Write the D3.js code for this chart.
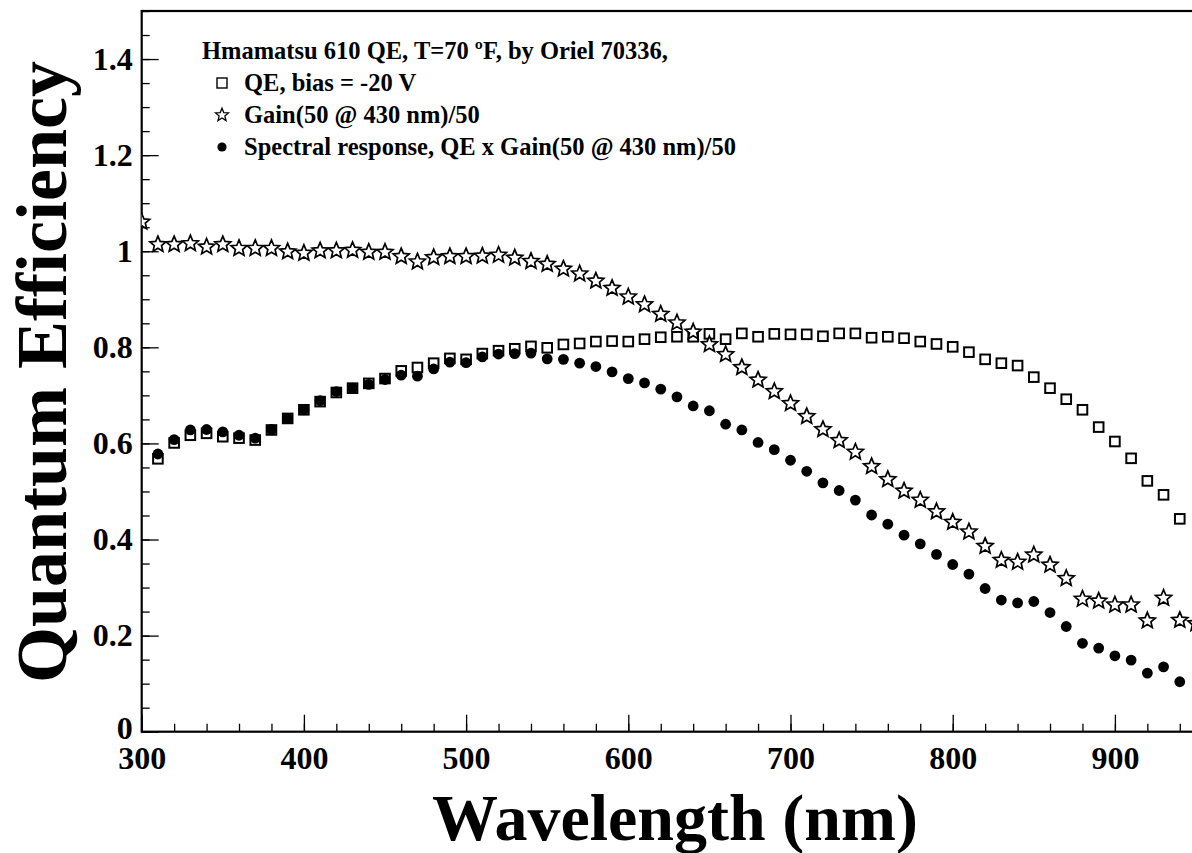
<!DOCTYPE html>
<html><head><meta charset="utf-8">
<script src="https://cdn.jsdelivr.net/npm/d3@7"></script>
<style>body{margin:0;background:#fff;overflow:hidden}</style>
</head><body>
<svg id="c" width="1192" height="853"></svg>
<script>
// ---- data ----
const wavelengthsQE = [310,320,330,340,350,360,370,380,390,400,410,420,430,440,450,460,470,480,490,500,510,520,530,540,550,560,570,580,590,600,610,620,630,640,650,660,670,680,690,700,710,720,730,740,750,760,770,780,790,800,810,820,830,840,850,860,870,880,890,900,910,920,930,940];
const qe = [0.568,0.601,0.617,0.621,0.614,0.611,0.607,0.628,0.652,0.670,0.687,0.706,0.715,0.725,0.735,0.751,0.758,0.767,0.777,0.775,0.787,0.793,0.797,0.802,0.799,0.806,0.808,0.812,0.813,0.812,0.817,0.821,0.822,0.822,0.828,0.817,0.829,0.822,0.828,0.827,0.827,0.823,0.829,0.829,0.820,0.822,0.819,0.812,0.807,0.801,0.790,0.775,0.767,0.762,0.738,0.715,0.692,0.670,0.634,0.604,0.569,0.522,0.493,0.443];

const wavelengthsGain = [300,310,320,330,340,350,360,370,380,390,400,410,420,430,440,450,460,470,480,490,500,510,520,530,540,550,560,570,580,590,600,610,620,630,640,650,660,670,680,690,700,710,720,730,740,750,760,770,780,790,800,810,820,830,840,850,860,870,880,890,900,910,920,930,940,950];
const gain = [1.061,1.014,1.014,1.016,1.009,1.014,1.006,1.006,1.006,0.999,0.996,1.001,1.001,1.002,0.998,0.998,0.989,0.978,0.987,0.989,0.989,0.990,0.992,0.986,0.979,0.973,0.963,0.953,0.938,0.923,0.905,0.889,0.869,0.851,0.832,0.806,0.785,0.758,0.732,0.708,0.683,0.656,0.629,0.606,0.582,0.552,0.525,0.501,0.482,0.458,0.436,0.416,0.386,0.357,0.353,0.368,0.347,0.319,0.276,0.272,0.264,0.264,0.231,0.278,0.232,0.225];

const wavelengthsSR = wavelengthsQE;
const spectral = [0.578,0.608,0.628,0.629,0.624,0.617,0.611,0.629,0.652,0.670,0.689,0.708,0.715,0.723,0.733,0.742,0.740,0.755,0.769,0.768,0.780,0.786,0.787,0.788,0.776,0.775,0.767,0.760,0.749,0.735,0.726,0.713,0.697,0.678,0.668,0.640,0.628,0.602,0.587,0.565,0.542,0.518,0.502,0.482,0.451,0.432,0.409,0.391,0.369,0.348,0.328,0.298,0.274,0.268,0.271,0.248,0.219,0.184,0.174,0.158,0.149,0.122,0.135,0.104];

const xTickValues = [300,400,500,600,700,800,900];
const yTickValues = [0,0.2,0.4,0.6,0.8,1.0,1.2,1.4];
const yTickLabels = ["0","0.2","0.4","0.6","0.8","1","1.2","1.4"];
const legendTitle = "Hmamatsu 610 QE, T=70 \u00baF, by Oriel 70336,";
const legendLabels = ["QE, bias = -20 V","Gain(50 @ 430 nm)/50","Spectral response, QE x Gain(50 @ 430 nm)/50"];
const xTitle = "Wavelength (nm)";
const yTitle = "Quantum Efficiency";

// ---- layout ----
const svg = d3.select("#c");
const FONT = "'Liberation Serif','Times New Roman',serif";
const x = d3.scaleLinear().domain([300,1000]).range([141.7, 1277.1]);
const y = d3.scaleLinear().domain([0,1.5]).range([731.7, 11]);

svg.append("defs").append("clipPath").attr("id","clip")
  .append("rect").attr("x",x(300)).attr("y",y(1.5)).attr("width",x(1000)-x(300)).attr("height",y(0)-y(1.5));

// frame
svg.append("rect").attr("x",x(300)).attr("y",y(1.5)).attr("width",x(1000)-x(300)).attr("height",y(0)-y(1.5))
  .attr("fill","none").attr("stroke","#000").attr("stroke-width",2.2);

// x axis
const xMinor = d3.range(300,1001,20);
const gxm = svg.append("g").attr("transform",`translate(0,${y(0)})`)
  .call(d3.axisBottom(x).tickValues(xMinor).tickSize(-8).tickFormat(""));
const gx = svg.append("g").attr("transform",`translate(0,${y(0)})`)
  .call(d3.axisBottom(x).tickValues(xTickValues).tickSize(-17).tickPadding(15).tickFormat(d3.format("d")));
// y axis
const yMinor = d3.range(0,1.5001,0.05);
const gym = svg.append("g").attr("transform",`translate(${x(300)},0)`)
  .call(d3.axisLeft(y).tickValues(yMinor).tickSize(-8).tickFormat(""));
const gy = svg.append("g").attr("transform",`translate(${x(300)},0)`)
  .call(d3.axisLeft(y).tickValues(yTickValues).tickSize(-17).tickPadding(9).tickFormat((d,i)=>yTickLabels[i]));
[gxm,gx,gym,gy].forEach(g=>{
  g.select(".domain").remove();
  g.selectAll(".tick line").attr("stroke","#000").attr("stroke-width",1.3);
  g.selectAll("text").attr("font-family",FONT).attr("font-weight","bold").attr("font-size",32).attr("fill","#000");
});
// lift the "0" label slightly, as in the reference
gy.selectAll(".tick text").filter(d=>d===0).attr("dy","0.2em");

// titles
svg.append("text").attr("x",675).attr("y",840).attr("text-anchor","middle")
  .attr("font-family",FONT).attr("font-weight","bold").attr("font-size",66).text(xTitle);
svg.append("text").attr("transform",`translate(66,372) rotate(-90)`).attr("text-anchor","middle")
  .attr("font-family",FONT).attr("font-weight","bold").attr("font-size",72).text(yTitle);

// markers
function starPath(R, r){
  const pts=[];
  for(let i=0;i<10;i++){
    const a = -Math.PI/2 + i*Math.PI/5;
    const rr = i%2===0 ? R : r;
    pts.push([rr*Math.cos(a), rr*Math.sin(a)]);
  }
  return "M"+pts.map(p=>p[0].toFixed(2)+","+p[1].toFixed(2)).join("L")+"Z";
}
const plot = svg.append("g").attr("clip-path","url(#clip)");
const qeData = wavelengthsQE.map((w,i)=>({w, v:qe[i]}));
const gainData = wavelengthsGain.map((w,i)=>({w, v:gain[i]}));
const srData = wavelengthsSR.map((w,i)=>({w, v:spectral[i]}));

plot.append("g").selectAll("rect").data(qeData).join("rect")
  .attr("x",d=>x(d.w)-4.8).attr("y",d=>y(d.v)-4.8).attr("width",9.6).attr("height",9.6)
  .attr("fill","none").attr("stroke","#000").attr("stroke-width",2);
const sp = starPath(8.4,3.8);
plot.append("g").selectAll("path").data(gainData).join("path")
  .attr("d",sp).attr("transform",d=>`translate(${x(d.w)},${y(d.v)})`)
  .attr("fill","#fff").attr("stroke","#000").attr("stroke-width",1.7).attr("stroke-linejoin","miter");
plot.append("g").selectAll("circle").data(srData).join("circle")
  .attr("cx",d=>x(d.w)).attr("cy",d=>y(d.v)).attr("r",5.4).attr("fill","#000");

// legend
const lg = svg.append("g").attr("font-family",FONT).attr("font-weight","bold").attr("font-size",24.5);
lg.append("text").attr("x",202).attr("y",59).text(legendTitle);
const rowsY = [83,115,147];
lg.selectAll("text.l").data(legendLabels).join("text").attr("class","l")
  .attr("x",244).attr("y",(d,i)=>rowsY[i]+8).text(d=>d);
lg.append("rect").attr("x",222-5).attr("y",rowsY[0]-5).attr("width",10).attr("height",10)
  .attr("fill","none").attr("stroke","#000").attr("stroke-width",1.4);
lg.append("path").attr("d",starPath(6.8,3.0)).attr("transform",`translate(222,${rowsY[1]})`)
  .attr("fill","#fff").attr("stroke","#000").attr("stroke-width",1.3);
lg.append("circle").attr("cx",222).attr("cy",rowsY[2]).attr("r",4.6).attr("fill","#000");
</script>
</body></html>
